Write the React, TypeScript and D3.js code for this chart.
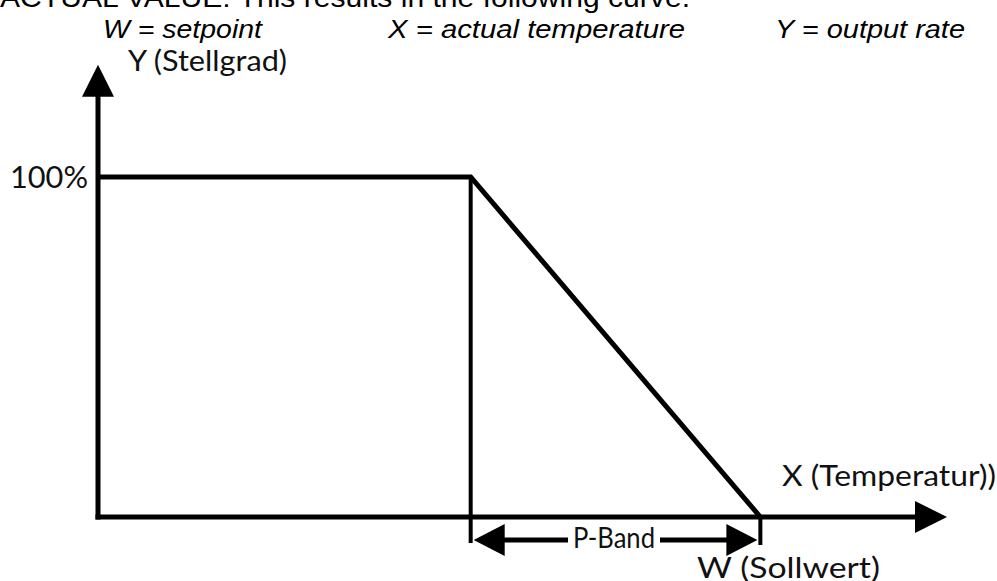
import React from 'react';
import * as d3 from 'd3';

// curve breakpoints: temperature (arbitrary units) vs output rate (%)
const curveX = [0, 44, 78.2];
const curveY = [100, 100, 0];

const axisMaxX = 100;
const axisMaxY = 133;
const pBandStart = 44;
const setpoint = 78.2;

const legendLabels = ['W = setpoint', 'X = actual temperature', 'Y = output rate'];
const legendStarts = [103, 388, 775];
const legendEnds = [262, 685, 965];

const W = 997;
const H = 581;

const x = d3.scaleLinear().domain([0, axisMaxX]).range([98, 945]);
const y = d3.scaleLinear().domain([0, 100]).range([517, 177]);

const labelFont = 'Lato, "DejaVu Sans", sans-serif';

const App = () => {
    const pts = curveX.map((v, i) => [x(v), y(curveY[i])] as [number, number]);
    const line = d3.line();

    const x0 = x(0), y0 = y(0);
    const yTop = y(axisMaxY);
    const xEnd = x(axisMaxX);
    const pb0 = x(pBandStart), pb1 = x(setpoint);
    const bandY = y0 + 23;

    // little helper for filled arrowheads
    const head = (tx: number, ty: number, dir: 'up' | 'right' | 'left', len = 32, half = 16) => {
        let p: [number, number][];
        if (dir === 'up') p = [[tx, ty], [tx - half, ty + len], [tx + half, ty + len]];
        else if (dir === 'right') p = [[tx, ty], [tx - len, ty - half], [tx - len, ty + half]];
        else p = [[tx, ty], [tx + len, ty - half], [tx + len, ty + half]];
        return <path d={line(p) + 'Z'} fill="#000" />;
    };

    return (
        <svg width={W} height={H} style={{ position: 'absolute', left: 0, top: 0, background: '#fff' }}>
            <text x={0} y={7} fontFamily='"Liberation Sans", Arial, sans-serif' fontSize={28}
                textLength={690} lengthAdjust="spacingAndGlyphs">ACTUAL VALUE: This results in the following curve.</text>

            {legendLabels.map((t, i) => (
                <text key={t} x={legendStarts[i]} y={38} fontFamily='"Liberation Sans", Arial, sans-serif'
                    fontStyle="italic" fontSize={26} textLength={legendEnds[i] - legendStarts[i]}
                    lengthAdjust="spacingAndGlyphs">{t}</text>
            ))}

            {/* axes */}
            <line x1={x0} y1={y0 + 2.5} x2={x0} y2={yTop + 20} stroke="#000" strokeWidth={5} />
            {head(x0, yTop, 'up')}
            <line x1={x0 - 2.5} y1={y0} x2={xEnd - 20} y2={y0} stroke="#000" strokeWidth={5} />
            {head(xEnd + 2, y0, 'right')}

            {/* output curve */}
            <path d={line(pts) ?? ''} fill="none" stroke="#000" strokeWidth={5} strokeLinejoin="miter" />
            <line x1={pb0} y1={y(100)} x2={pb0} y2={y0 + 26} stroke="#000" strokeWidth={4} />
            <line x1={pb1} y1={y0} x2={pb1} y2={y0 + 28} stroke="#000" strokeWidth={4} />

            {/* P-band dimension */}
            {head(pb0 + 3, bandY, 'left', 31, 16)}
            {head(pb1 - 3, bandY, 'right', 31, 16)}
            <line x1={pb0 + 30} y1={bandY} x2={568} y2={bandY} stroke="#000" strokeWidth={5} />
            <line x1={660} y1={bandY} x2={pb1 - 30} y2={bandY} stroke="#000" strokeWidth={5} />

            <g fontFamily={labelFont} fill="#111">
                <text x={128} y={71} fontSize={29} textLength={159} lengthAdjust="spacingAndGlyphs">Y (Stellgrad)</text>
                <text x={10} y={188} fontSize={30} textLength={78} lengthAdjust="spacingAndGlyphs">100%</text>
                <text x={782} y={486} fontSize={29} textLength={214} lengthAdjust="spacingAndGlyphs">X (Temperatur))</text>
                <text x={573} y={548} fontSize={29} textLength={82} lengthAdjust="spacingAndGlyphs">P-Band</text>
                <text x={697} y={578} fontSize={29} textLength={183} lengthAdjust="spacingAndGlyphs">W (Sollwert)</text>
            </g>
        </svg>
    );
};

export default App;
